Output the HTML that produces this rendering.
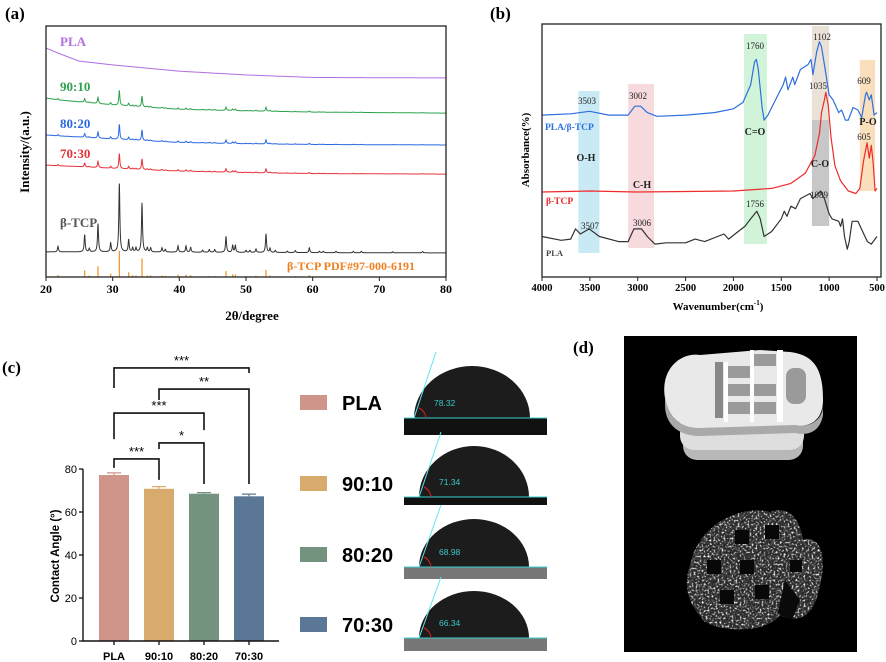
<!DOCTYPE html>
<html><head><meta charset="utf-8">
<style>
html,body{margin:0;padding:0;background:#fff;}
svg{display:block;font-family:"Liberation Serif",serif;}
.sans{font-family:"Liberation Sans",Arial,sans-serif;}
</style></head>
<body>
<svg id="fig" width="886" height="662" viewBox="0 0 886 662" xmlns="http://www.w3.org/2000/svg">
  <defs>
    <filter id="speck" x="0" y="0" width="100%" height="100%">
      <feTurbulence type="fractalNoise" baseFrequency="0.5" numOctaves="2" seed="4"/>
      <feColorMatrix type="matrix" values="0 0 0 0 1  0 0 0 0 1  0 0 0 0 1  3.5 0 0 0 -1.75"/>
    </filter>
    <clipPath id="blobclip"><path d="M690 565 C700 520 745 505 770 512 C790 505 800 520 803 540 C812 535 830 545 820 585 C815 615 800 625 780 615 C770 630 730 635 705 622 C690 605 682 590 690 565 Z"/></clipPath>
  </defs>
  <text x="5" y="19" font-size="17" font-weight="bold">(a)</text>
  <text x="490" y="19" font-size="17" font-weight="bold">(b)</text>
  <text x="2" y="373" font-size="17" font-weight="bold">(c)</text>
  <text x="573" y="353" font-size="17" font-weight="bold">(d)</text>

  <g id="xrd"></g>
  <g id="ftir"></g>
  <g id="bars"></g>
  <g id="drops"></g>

  <g>
    <rect x="624" y="336" width="233" height="316" fill="#000"/>
    <g>
      <rect x="683" y="420" width="120" height="40" rx="14" fill="#b8b8b8"/>
      <rect x="680" y="410" width="124" height="40" rx="14" fill="#dedede"/>
      <path d="M665 398 C660 370 680 352 700 355 L760 350 L790 352 C815 355 823 370 823 400 C823 420 810 428 795 425 L700 428 C678 428 668 415 665 398 Z" fill="#e9e9e9"/>
      <path d="M665 398 C668 415 678 428 700 428 L795 425 C810 428 823 420 823 405 L823 415 C820 432 808 436 795 433 L700 436 C676 436 665 422 665 405 Z" fill="#a9a9a9"/>
      <rect x="715" y="362" width="8" height="56" fill="#888"/>
      <rect x="728" y="366" width="22" height="12" fill="#9a9a9a"/>
      <rect x="728" y="384" width="22" height="12" fill="#9a9a9a"/>
      <rect x="728" y="402" width="22" height="12" fill="#9a9a9a"/>
      <rect x="752" y="354" width="24" height="12" fill="#9a9a9a"/>
      <rect x="752" y="384" width="24" height="12" fill="#9a9a9a"/>
      <rect x="752" y="402" width="24" height="12" fill="#9a9a9a"/>
      <rect x="786" y="368" width="20" height="36" rx="8" fill="#9a9a9a"/>
      <rect x="724" y="362" width="4" height="60" fill="#fff"/>
      <rect x="750" y="350" width="4" height="72" fill="#fff"/>
      <rect x="777" y="350" width="6" height="72" fill="#fff"/>
    </g>
    <g clip-path="url(#blobclip)">
      <rect x="680" y="500" width="150" height="140" fill="#2a2a2a"/>
      <rect x="680" y="500" width="150" height="140" filter="url(#speck)"/>
      <rect x="735" y="530" width="14" height="14" fill="#080808"/>
      <rect x="765" y="525" width="14" height="14" fill="#080808"/>
      <rect x="707" y="560" width="14" height="14" fill="#080808"/>
      <rect x="740" y="560" width="14" height="14" fill="#080808"/>
      <rect x="790" y="560" width="12" height="12" fill="#080808"/>
      <rect x="720" y="590" width="14" height="14" fill="#080808"/>
      <rect x="755" y="585" width="14" height="14" fill="#080808"/>
      <path d="M785 580 L800 600 L790 625 L778 612 Z" fill="#0a0a0a"/>
    </g>
  </g>
</svg>

<script>
const NS = "http://www.w3.org/2000/svg";
function mk(tag, attrs, parent) {
  const el = document.createElementNS(NS, tag);
  for (const k in attrs) el.setAttribute(k, attrs[k]);
  if (parent) parent.appendChild(el);
  return el;
}

/* ================= XRD data ================= */
const xrdPeakPos = [21.8,25.8,26.5,27.8,29.7,31.0,32.4,33.0,33.5,34.4,35.2,35.7,37.4,37.9,39.8,41.0,41.7,43.5,44.5,45.3,47.0,48.0,48.4,50.0,50.6,51.5,53.0,53.6,54.4,56.2,57.4,59.5,61.0,61.6,63.5,66.1,67.3,72.0,76.5];
const xrdPeakInt = [8,25,5,41,13,100,18,6,6,71,6,6,6,4,9,9,7,3,4,4,23,10,10,3,3,5,27,6,3,2,3,7,2,2,2,2,2,1.5,2];
const xrdSeriesNames = ["PLA","90:10","80:20","70:30","β-TCP"];
const xrdBaseX = [20,22,25,30,40,50,60,80];
const xrdBasePLA = [91.2,89,86,84.5,82,80.5,79.5,79.3];
const xrdBase9010 = [71.3,70.5,69.8,68.6,66.8,66.2,65.7,65.3];
const xrdBase8020 = [56.6,56.2,55.8,55,53.6,53.1,52.8,52.6];
const xrdBase7030 = [44.6,44.3,44,43.3,42.2,41.6,41.2,41];
const xrdBaseTCP = [10,10,10,10,9.9,9.8,9.7,9.6];
const xrdPeakScale = [0,6,6,6,27.5];
const xrdRefScale = 10.4;
const xrdTicks = [20,30,40,50,60,70,80];

/* ================= FTIR data ================= */
const ftirBlueWn = [4000,3700,3503,3300,3100,3030,2970,2900,2800,2500,2200,2000,1900,1820,1780,1760,1740,1700,1680,1640,1560,1480,1455,1430,1380,1360,1300,1220,1190,1170,1130,1102,1080,1050,1000,960,900,870,830,800,750,700,660,620,609,580,560,530,500];
const ftirBlueAbs = [64,64.5,65.5,64,64,67.5,67.5,65,63.5,64,65,66.5,69,76,85,86,82,67,62,64,70,76,79,74,79,76,82,84,86,80,89,93,91,84,72,70,65,66,62,62,67,66,63,72,73,70,72,64,65];
const ftirRedWn = [4000,3500,3000,2500,2000,1600,1400,1250,1150,1100,1080,1050,1035,1010,980,940,880,800,720,680,640,605,580,560,540,520,500];
const ftirRedAbs = [33.6,34,33.6,33.8,34,35,37,41,48,57,65,70,73,68,55,44,38,34,33,35,46,53,47,52,45,34,35];
const ftirBlackWn = [4000,3800,3700,3650,3600,3507,3400,3200,3100,3040,2960,2900,2820,2700,2500,2400,2300,2100,2050,1950,1880,1820,1756,1720,1680,1600,1500,1470,1440,1400,1350,1300,1200,1170,1089,1050,1000,970,900,880,860,840,810,790,760,700,650,600,560,500];
const ftirBlackAbs = [16,14.5,15,19,17,19,16,14,14,19,19,16,13,13.5,13.5,15,14,17,15,18,20,23,26,23,16,18,23,26,24,28,27,31,33,31,34,31,25,23,22,20,23,16,11,14,22,22,18,14,13,16];
const ftirTicks = [4000,3500,3000,2500,2000,1500,1000,500];

/* ================= Contact angle data ================= */
const caCategories = ["PLA","90:10","80:20","70:30"];
const caValues = [77.2,70.8,68.5,67.3];
const caErrors = [1.0,1.0,0.5,1.0];
const caTicks = [0,20,40,60,80];
const caSigLeft = [0,1,0,1,0];
const caSigRight = [1,2,2,3,3];
const caSigLabels = ["***","*","***","**","***"];
const caSigLevel = [84.7,92.1,106,117.2,127];
const caDropAngles = ["78.32","71.34","68.98","66.34"];

/* ================= XRD chart ================= */
(function(){
  const g = document.getElementById('xrd');
  const L=46,R=446,T=26,B=277;
  const xs = v => L + (v-20)/(60)*(R-L);
  const ys = v => B - v*2.51;
  const baseArrs = [xrdBasePLA,xrdBase9010,xrdBase8020,xrdBase7030,xrdBaseTCP];
  const colors = ["#b16fe0","#2ea24e","#2a6ae0","#e8323a","#333333"];
  const labelY = [46,91,128,158,227];
  function base(arr,x){
    for(let i=0;i<xrdBaseX.length-1;i++){
      if(x<=xrdBaseX[i+1]){const t=(x-xrdBaseX[i])/(xrdBaseX[i+1]-xrdBaseX[i]);return arr[i]+t*(arr[i+1]-arr[i]);}
    }
    return arr[arr.length-1];
  }
  function peaks(x){
    let s=0;const gm=0.09;
    for(let i=0;i<xrdPeakPos.length;i++){const d=x-xrdPeakPos[i];s+=xrdPeakInt[i]*gm*gm/(d*d+gm*gm);}
    return s/100;
  }
  for(let k=0;k<5;k++){
    let d="";
    for(let x=20;x<=80.001;x+=0.03){
      const v = base(baseArrs[k],x)+xrdPeakScale[k]*peaks(x);
      d += (d?"L":"M")+xs(x).toFixed(1)+" "+ys(v).toFixed(1);
    }
    const p = mk('path',{d:d,fill:'none',stroke:colors[k],'stroke-width':1},g);
    
    
    const t = mk('text',{x:60,y:labelY[k],fill:k===4?'#555':colors[k],'font-size':13,'font-weight':'bold'},g);
    t.textContent = xrdSeriesNames[k];
    
    
  }
  for(let i=0;i<xrdPeakPos.length;i++){
    if(xrdPeakPos[i]>67) continue;
    const s = mk('line',{x1:xs(xrdPeakPos[i]),x2:xs(xrdPeakPos[i]),y1:B,y2:ys(xrdRefScale*xrdPeakInt[i]/100), stroke:'#f39020','stroke-width':1.2},g);
    
    
  }
  const rl = mk('text',{x:287,y:270,fill:'#f08020','font-size':12,'font-weight':'bold'},g);
  rl.textContent='β-TCP PDF#97-000-6191';
  
  
  const fr = mk('rect',{x:L,y:T,width:R-L,height:B-T,fill:'none',stroke:'#222','stroke-width':1.3},g);
  
  
  xrdTicks.forEach(v=>{
    const tk = mk('line',{x1:xs(v),x2:xs(v),y1:B,y2:B+4,stroke:'#222'},g);
    
    
    const tl = mk('text',{x:xs(v),y:293,'text-anchor':'middle','font-size':12,'font-weight':'bold'},g);
    tl.textContent=v;
    
    
  });
  const xt = mk('text',{x:252,y:320,'text-anchor':'middle','font-size':13,'font-weight':'bold'},g);
  xt.textContent='2θ/degree';
  
  
  const yt = mk('text',{x:0,y:0,'text-anchor':'middle','font-size':13,'font-weight':'bold',transform:'translate(29,152) rotate(-90)'},g);
  yt.textContent='Intensity/(a.u.)';
  
  
})();

/* ================= FTIR chart ================= */
(function(){
  const g = document.getElementById('ftir');
  const L=542,R=881,T=24,B=277;
  const xs = w => L + (4000-w)/3500*(877-L);
  const ys = v => B - v*2.53;
  const bands = [
    [3620,3400,91,253,'#bfe6f2','band-o-h'],
    [3100,2830,84,248,'#f6d3d8','band-c-h'],
    [1890,1650,34,244,'#c9f2d2','band-c-o-double'],
    [1180,1000,26,120,'#e8ddd0','band-c-o-upper'],
    [1180,1000,120,226,'#bdbdbd','band-c-o-lower'],
    [680,520,60,191,'#f8d9b0','band-p-o']
  ];
  bands.forEach(b=>{
    const r = mk('rect',{x:xs(b[0]),y:b[2],width:xs(b[1])-xs(b[0]),height:b[3]-b[2],fill:b[4],opacity:0.85},g);
    
    
  });
  const series = [[ftirBlueWn,ftirBlueAbs,'#2f6fe0','ftir-line-pla-tcp'],[ftirRedWn,ftirRedAbs,'#ee2b2b','ftir-line-tcp'],[ftirBlackWn,ftirBlackAbs,'#333','ftir-line-pla']];
  series.forEach(s=>{
    let d='';
    for(let i=0;i<s[0].length;i++) d+=(i?'L':'M')+xs(s[0][i]).toFixed(1)+' '+ys(s[1][i]).toFixed(1);
    const p = mk('path',{d:d,fill:'none',stroke:s[2],'stroke-width':1.2,'stroke-linejoin':'round'},g);
    
    
  });
  const labels = [
    [545,130,'PLA/β-TCP','#2f6fe0',9.5,true],[546,204,'β-TCP','#ee2b2b',9.5,true],[546,256,'PLA','#444',8.5,true],
    [587,104,'3503','#222',9,false],[638,99,'3002','#222',9,false],[755,49,'1760','#222',9,false],[822,40,'1102','#222',9,false],
    [818,89,'1035','#222',9,false],[864,84,'609','#222',9,false],[864,140,'605','#222',9,false],[819,198,'1089','#222',9,false],
    [755,207,'1756','#222',9,false],[590,229,'3507','#222',9,false],[642,226,'3006','#222',9,false],
    [586,161,'O-H','#222',10,true],[642,188,'C-H','#222',10,true],[755,135,'C=O','#222',10,true],[820,167,'C-O','#222',10,true],[868,125,'P-O','#222',10,true]
  ];
  labels.forEach(l=>{
    const t = mk('text',{x:l[0],y:l[1],'text-anchor':'middle',fill:l[3],'font-size':l[4],'font-weight':l[5]?'bold':'normal'},g);
    if(l[0]<560){t.setAttribute('text-anchor','start');}
    t.textContent=l[2];
    
    
  });
  const fr = mk('rect',{x:L,y:T,width:R-L,height:B-T,fill:'none',stroke:'#222','stroke-width':1.3},g);
  
  
  ftirTicks.forEach(v=>{
    const tk = mk('line',{x1:xs(v),x2:xs(v),y1:B,y2:B+4,stroke:'#222'},g);
    
    
    const tl = mk('text',{x:xs(v),y:291,'text-anchor':'middle','font-size':10.5,'font-weight':'bold'},g);
    tl.textContent=v;
    
    
  });
  const xt = mk('text',{x:718,y:310,'text-anchor':'middle','font-size':11,'font-weight':'bold'},g);
  xt.innerHTML='Wavenumber(cm<tspan font-size="7" dy="-5">-1</tspan><tspan dy="5">)</tspan>';
  
  
  const yt = mk('text',{x:0,y:0,'text-anchor':'middle','font-size':11,'font-weight':'bold',transform:'translate(529,150) rotate(-90)'},g);
  yt.textContent='Absorbance(%)';
  
  
})();

/* ================= Contact angle bar chart ================= */
(function(){
  const g = document.getElementById('bars');
  const x0=83, x1=279, y0=641, pxu=2.15;
  const ys = v => y0 - v*pxu;
  const xc = i => 114 + i*45;
  const colors = ['#d0958a','#d8aa6c','#74937f','#5b7796'];
  const legLeft = [9,6,26,11,20];
  const legRight = [21,41,17,95,5];
  caValues.forEach((v,i)=>{
    const b = mk('rect',{x:xc(i)-15,y:ys(v),width:30,height:y0-ys(v),fill:colors[i]},g);
    
    
    const e = mk('path',{d:`M${xc(i)} ${ys(v)} V${ys(v+caErrors[i])} M${xc(i)-7} ${ys(v+caErrors[i])} H${xc(i)+7}`,stroke:colors[i],'stroke-width':1.2,fill:'none'},g);
    
    
    const tk = mk('line',{x1:xc(i),x2:xc(i),y1:y0,y2:y0+4,stroke:'#111','stroke-width':1.3},g);
    
    
    const tl = mk('text',{x:xc(i),y:660,'text-anchor':'middle','font-size':11,'font-weight':'bold',class:'sans'},g);
    tl.textContent=caCategories[i];
    
    
  });
  const ax = mk('path',{d:`M${x0} ${ys(80)} V${y0} H${x1}`,fill:'none',stroke:'#111','stroke-width':1.4},g);
  
  
  caTicks.forEach(v=>{
    const tk = mk('line',{x1:x0-4,x2:x0,y1:ys(v),y2:ys(v),stroke:'#111','stroke-width':1.3},g);
    
    
    const tl = mk('text',{x:x0-6,y:ys(v)+4,'text-anchor':'end','font-size':11,class:'sans'},g);
    tl.textContent=v;
    
    
  });
  const yt = mk('text',{x:0,y:0,'text-anchor':'middle','font-size':11.5,'font-weight':'bold',class:'sans',transform:'translate(59,556) rotate(-90)'},g);
  yt.textContent='Contact Angle (°)';
  
  
  caSigLabels.forEach((lab,k)=>{
    const a=caSigLeft[k], b=caSigRight[k], yl=ys(caSigLevel[k]);
    const br = mk('path',{d:`M${xc(a)} ${yl+legLeft[k]} V${yl} H${xc(b)} V${yl+legRight[k]}`,fill:'none',stroke:'#111','stroke-width':1.6},g);
    
    
    const t = mk('text',{x:(xc(a)+xc(b))/2,y:yl-3,'text-anchor':'middle','font-size':13,class:'sans'},g);
    t.textContent=lab;
    
    
  });
  const legY=[403,484,555,625];
  caCategories.forEach((c,i)=>{
    const s = mk('rect',{x:300,y:legY[i]-8,width:27,height:15,fill:colors[i]},g);
    
    
    const t = mk('text',{x:342,y:legY[i]+7,'font-size':20,'font-weight':'bold',class:'sans'},g);
    t.textContent=c;
    
    
  });
})();

/* ================= Droplet images ================= */
(function(){
  const g = document.getElementById('drops');
  const tops=[360,440,513,585], bots=[435,505,579,651], bases=[418,497,567,638];
  caDropAngles.forEach((a,i)=>{
    const grp = mk('g',{},g);
    
    
    mk('rect',{x:404,y:tops[i],width:143,height:bots[i]-tops[i],fill:'#fff'},grp);
    mk('rect',{x:404,y:bases[i],width:143,height:bots[i]-bases[i],fill:i>=2?'#777':'#111'},grp);
    const rx=(i===0?58:55), cx=i===0?472:474;
    mk('path',{d:`M${cx-rx} ${bases[i]} A${rx} ${bases[i]-tops[i]-6} 0 0 1 ${cx+rx} ${bases[i]} Z`,fill:'#1c1c1c'},grp);
    mk('line',{x1:404,x2:547,y1:bases[i],y2:bases[i],stroke:'#34d0d0','stroke-width':1},grp);
    mk('line',{x1:cx-rx,y1:bases[i],x2:cx-rx+22,y2:tops[i]-8,stroke:'#5fe6ef','stroke-width':1},grp);
    mk('path',{d:`M${cx-rx+12} ${bases[i]} A12 12 0 0 0 ${cx-rx+5} ${bases[i]-10}`,fill:'none',stroke:'#d02020','stroke-width':1},grp);
    const t = mk('text',{x:cx-rx+20,y:bases[i]-12,fill:'#3cc8c8','font-size':8.5,class:'sans'},grp);
    t.textContent=a;
    
    
  });
})();
</script>
</body></html>
